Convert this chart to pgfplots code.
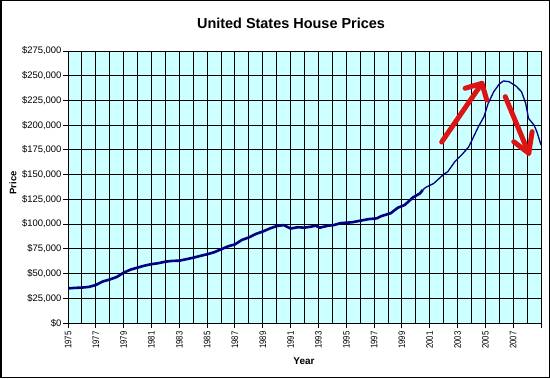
\documentclass[border=0pt]{standalone}
\usepackage{pgfplots}
\pgfplotsset{compat=1.18}
\usepackage{fontspec}
\setmainfont{Liberation Sans}
\newfontfamily\narrowfont[FakeStretch=0.82]{Liberation Sans}
\definecolor{plotbg}{RGB}{204,255,255}
\definecolor{navyline}{RGB}{0,0,128}
\definecolor{arrowred}{RGB}{220,20,20}
\begin{document}
\begin{tikzpicture}[x=1bp,y=1bp]
\useasboundingbox (0,0) rectangle (550,378);
\draw[line width=1.5bp] (0.75,0.75) rectangle (549.25,377.25);
\node[font=\bfseries\fontsize{14.5}{14.5}\selectfont] at (291,355) {United States House Prices};
\node[rotate=90, font=\bfseries\fontsize{9.5}{9.5}\selectfont] at (13,195) {Price};
\node[font=\bfseries\fontsize{10}{10}\selectfont] at (304,17) {Year};
\begin{axis}[
  at={(68bp,55bp)}, anchor=south west,
  width=473bp, height=272bp, scale only axis,
  xmin=1975, xmax=2009, ymin=0, ymax=275000,
  axis background/.style={fill=plotbg},
  axis line style={black, line width=0.9bp},
  xtick={1975,1977,...,2007},
  extra x ticks={2009}, extra x tick labels={},
  minor xtick={1976,1977,...,2008},
  ytick={0,25000,...,275000},
  grid=both,
  major grid style={black, line width=0.9bp},
  minor grid style={black, line width=0.9bp},
  tick align=outside,
  major tick length=5bp,
  minor tick length=0pt,
  tick style={black, line width=0.9bp},
  xtick pos=bottom, ytick pos=left,
  scaled y ticks=false,
  yticklabel={\$\pgfmathprintnumber[fixed,precision=0,1000 sep={,},assume math mode=true]{\tick}},
  xticklabel={\pgfmathprintnumber[fixed,precision=0,1000 sep={},assume math mode=true]{\tick}},
  yticklabel style={font=\fontsize{9.5}{9.5}\selectfont, xshift=2bp},
  xticklabel style={rotate=90, anchor=east, font=\narrowfont\fontsize{9.5}{9.5}\selectfont},
]
\addplot[navyline, line width=2.6bp, line join=round] coordinates {
(1975.0,35000) (1975.5,35500) (1976.0,35800) (1976.5,36500) (1977.0,38400)
(1977.5,42000) (1978.0,44000) (1978.5,46500) (1979.0,50900) (1979.5,54000)
(1980.0,56000) (1980.5,58000) (1981.0,59500) (1981.5,60500) (1982.0,62000)
(1982.5,62800) (1983.0,63000) (1983.5,64500) (1984.0,66000) (1984.5,67800)
(1985.0,69500) (1985.5,71500) (1986.0,74500) (1986.5,77500) (1987.0,79500)
(1987.5,84000) (1988.0,86500) (1988.5,90000) (1989.0,92500) (1989.5,95500)
(1990.0,98000) (1990.5,99000) (1991.0,95500) (1991.5,96800) (1992.0,96400)
(1992.5,97500) (1992.8,98400) (1993.1,96400) (1993.7,98400) (1994.1,99000)
(1994.6,101000) (1995.4,101800) (1996.0,103400) (1996.6,105000) (1997.2,105800)
(1997.5,108000) (1998.2,111000) (1998.7,116500) (1999.2,119300) (1999.8,127000)
(2000.3,131000) (2000.5,134500)
};
\addplot[navyline, line width=1.3bp, line join=round] coordinates {
(2000.5,134500) (2000.7,137000) (2001.3,141200) (2002.0,150300) (2002.3,153000)
(2002.8,163000) (2003.3,170000) (2003.8,178000) (2004.1,186700) (2004.5,198500)
(2004.9,208600) (2005.2,222000) (2005.6,233800) (2006.0,241600) (2006.3,244700)
(2006.7,244000) (2007.2,239600) (2007.6,233800) (2007.9,222000) (2008.1,207000)
(2008.5,200000) (2008.7,193400) (2009.0,180000)
};
\draw[arrowred, line width=5bp, line cap=round, line join=round]
  (axis cs:2001.86,183000) -- (axis cs:2004.75,242300);
\draw[arrowred, line width=5bp, line cap=round, line join=round]
  (axis cs:2003.54,237300) -- (axis cs:2004.75,242300) -- (axis cs:2005.1,225500);
\draw[arrowred, line width=5bp, line cap=round, line join=round]
  (axis cs:2006.43,228800) -- (axis cs:2008.12,171600);
\draw[arrowred, line width=5bp, line cap=round, line join=round]
  (axis cs:2007.04,183300) -- (axis cs:2008.12,171600) -- (axis cs:2008.36,193400);
\end{axis}
\end{tikzpicture}
\end{document}
